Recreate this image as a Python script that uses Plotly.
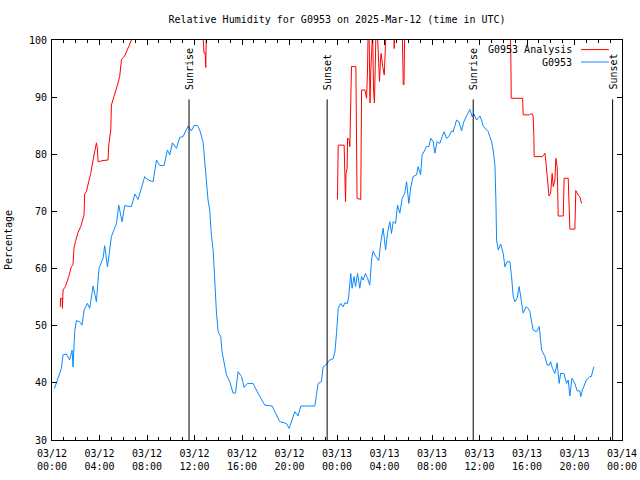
import pandas as pd
import plotly.graph_objects as go

BASE = pd.Timestamp("2025-03-12 00:00")

# Observed G0953 relative humidity (hours since 2025-03-12 00:00 UTC, %)
obs_hours = [0.2, 0.79, 0.93, 1.21, 1.49, 1.69, 1.77, 1.91, 2.05, 2.33, 2.53, 2.7, 2.98, 3.18, 3.46, 3.74, 3.96,
             4.3, 4.44, 4.67, 4.86, 5.0, 5.43, 5.62, 5.9, 6.12, 6.69, 6.97, 7.25, 7.81, 8.09, 8.51, 8.8, 9.07,
             9.44, 9.72, 9.92, 10.14, 10.48, 10.76, 11.04, 11.46, 11.74, 11.96, 12.25, 12.44, 12.72, 12.86, 13.0,
             13.14, 13.28, 13.42, 13.57, 13.65, 13.77, 13.85, 13.99, 14.21, 14.32, 14.49, 14.69, 14.97, 15.25,
             15.45, 15.67, 15.96, 16.18, 16.46, 16.93, 17.35, 17.92, 18.53, 19.18, 19.74, 19.97, 20.45, 20.72,
             20.95, 22.13, 22.27, 22.41, 22.69, 22.83, 22.97, 23.39, 23.67, 23.82, 23.96, 24.1, 24.32, 24.52,
             24.66, 24.88, 24.99, 25.16, 25.27, 25.44, 25.56, 25.73, 25.92, 26.07, 26.2, 26.4, 26.57, 26.76,
             26.91, 27.04, 27.24, 27.52, 27.69, 27.89, 28.09, 28.26, 28.45, 28.59, 28.73, 28.93, 29.1, 29.29,
             29.49, 29.71, 29.86, 30.05, 30.22, 30.41, 30.7, 30.84, 31.04, 31.17, 31.4, 31.54, 31.74, 31.9,
             32.1, 32.24, 32.43, 32.66, 32.86, 33.02, 33.22, 33.42, 33.65, 33.78, 34.07, 34.26, 34.49, 34.68,
             34.91, 35.19, 35.38, 35.53, 35.75, 36.03, 36.17, 36.31, 36.54, 36.73, 36.87, 37.02, 37.15, 37.3,
             37.38, 37.44, 37.58, 37.78, 38.0, 38.14, 38.33, 38.56, 38.7, 38.84, 38.98, 39.17, 39.34, 39.54,
             39.68, 39.91, 40.1, 40.24, 40.39, 40.52, 40.81, 41.03, 41.23, 41.51, 41.7, 41.87, 41.99, 42.15,
             42.35, 42.54, 42.71, 42.83, 43.11, 43.33, 43.47, 43.61, 43.78, 44.03, 44.22, 44.45, 44.53, 44.67,
             45.0, 45.28, 45.42, 45.62]
obs_values = [39.0, 42.5, 44.9, 45.05, 44.0, 45.75, 42.8, 48.95, 50.9, 50.7, 50.1, 52.75, 53.9, 53.05, 56.95, 54.2,
              60.05, 61.8, 64.0, 60.3, 63.25, 65.6, 67.9, 71.1, 68.2, 71.0, 70.85, 73.05, 72.1, 76.1, 75.5, 75.2,
              79.0, 78.05, 78.05, 80.75, 79.9, 82.0, 81.05, 82.95, 83.1, 84.95, 84.1, 85.05, 85.0, 84.25, 82.2,
              78.7, 75.2, 72.0, 70.25, 65.9, 63.25, 59.75, 56.25, 52.2, 48.95, 48.1, 45.45, 43.4, 41.4, 40.2,
              38.2, 38.2, 41.95, 41.1, 39.2, 39.9, 39.9, 38.2, 36.1, 35.95, 33.2, 32.9, 32.05, 34.95, 34.2,
              35.95, 35.95, 37.9, 39.9, 40.2, 42.8, 42.95, 44.0, 44.2, 45.4, 48.65, 53.05, 53.9, 53.3, 54.0,
              53.9, 55.2, 59.15, 56.55, 58.6, 56.85, 59.15, 56.55, 58.6, 58.0, 59.15, 58.3, 57.1, 61.5, 63.1,
              62.2, 61.4, 64.7, 67.05, 63.25, 66.3, 68.2, 66.15, 68.2, 67.9, 71.1, 69.7, 72.3, 73.2, 75.2, 71.4,
              74.3, 76.1, 76.4, 77.85, 76.4, 79.9, 80.75, 81.35, 81.35, 82.8, 82.2, 80.2, 82.2, 81.9, 83.1,
              83.95, 82.8, 83.1, 84.1, 83.95, 86.0, 85.7, 84.1, 85.7, 86.7, 87.85, 86.6, 87.05, 86.0, 86.7,
              86.0, 84.95, 84.4, 83.95, 83.1, 82.2, 80.75, 78.1, 72.0, 65.0, 63.25, 64.3, 62.65, 60.3, 61.2,
              61.2, 58.6, 55.1, 54.2, 54.8, 56.85, 53.9, 52.2, 53.3, 53.05, 52.45, 51.0, 49.25, 48.95, 49.85,
              45.75, 44.6, 43.1, 43.1, 43.7, 42.5, 41.65, 43.5, 39.9, 41.65, 41.65, 39.9, 40.5, 37.7, 40.8,
              39.9, 38.6, 38.6, 37.6, 38.75, 40.5, 41.1, 41.1, 42.8]

# G0953 Analysis (values above 100 run off the top of the chart; None = no data)
ana_hours = [0.7, 0.72, 0.86, 0.88, 0.93, 1.13, 1.41, 1.63, 1.77, 1.85, 1.97, 2.19, 2.42, 2.7, 2.75, 2.9, 3.09,
             3.26, 3.46, 3.66, 3.74, 3.82, 3.88, 4.3, 4.72, 4.78, 4.86, 4.95, 5.0, 5.14, 5.34, 5.51, 5.7, 5.85,
             6.12, 6.4, 6.74, 7.0, 12.7, 12.8, 12.9, 12.95, 13.0, 13.1,
             18.0,
             24.04, 24.05, 24.1, 24.6, 24.66, 24.72, 24.76, 24.85, 24.89, 25.02, 25.08, 25.14, 25.22, 25.59,
             25.64, 25.69, 26.0, 26.07, 26.35, 26.49, 26.57, 26.62, 26.7, 26.78, 26.85, 26.93, 27.0, 27.08,
             27.15, 27.22, 27.28, 27.4, 27.47, 27.58, 27.66, 27.72, 27.85, 27.98, 28.05, 28.12, 28.78, 28.82,
             28.86, 29.5, 29.58, 29.64, 29.7, 38.6, 38.65, 38.67, 39.63, 39.68, 40.19, 40.3, 40.45, 40.52,
             40.58, 40.6, 41.31, 41.45, 41.51, 41.6, 41.71, 41.77, 41.85, 41.99, 42.12, 42.21, 42.35, 42.43,
             42.54, 42.58, 42.63, 43.05, 43.13, 43.47, 43.55, 43.61, 44.03, 44.06, 44.11, 44.3, 44.45, 44.59]
ana_values = [53.3, 54.8, 54.8, 53.05, 56.25, 56.85, 58.6, 60.35, 60.65, 63.55, 64.7, 66.3, 67.35, 69.4, 73.05,
              73.5, 75.2, 76.65, 79.0, 81.45, 82.0, 81.05, 78.7, 78.9, 79.0, 81.6, 83.4, 84.25, 88.6, 89.5,
              90.95, 92.1, 93.6, 96.6, 97.2, 98.5, 100.0, 101.5, 101.5, 97.7, 97.7, 95.2, 101.5, 101.5,
              None,
              72.1, 77.0, 81.6, 81.6, 76.65, 71.7, 76.65, 77.5, 82.8, 82.6, 81.35, 88.35, 95.35, 95.35, 83.95,
              72.3, 72.1, 91.25, 91.25, 89.8, 94.75, 101.5, 101.5, 89.0, 94.75, 101.5, 101.5, 91.25, 89.0,
              95.35, 101.5, 101.5, 97.65, 92.75, 96.5, 97.65, 95.35, 93.9, 97.4, 101.5, 101.5, 98.5, 101.5,
              101.5, 92.2, 92.2, 101.5, 101.5, 95.0, 89.8, 89.8, 86.9, 86.9, 87.05, 87.05, 86.7, 83.1, 79.6,
              79.6, 80.2, 80.2, 78.45, 76.4, 74.35, 72.7, 73.2, 76.65, 74.35, 75.5, 79.3, 77.85, 74.35, 69.2,
              69.2, 75.8, 75.8, 69.7, 66.9, 66.9, 70.25, 73.65, 72.9, 72.6, 71.4]

# Sunrise / sunset (hours since 2025-03-12 00:00 UTC)
sun_hours = [11.54, 23.17, 35.47, 47.21]
sun_labels = ["Sunrise", "Sunset", "Sunrise", "Sunset"]

# X tick labels every 4 hours
tick_hours = [0, 4, 8, 12, 16, 20, 24, 28, 32, 36, 40, 44, 48]
tick_text = ["03/12<br>00:00", "03/12<br>04:00", "03/12<br>08:00", "03/12<br>12:00", "03/12<br>16:00",
             "03/12<br>20:00", "03/13<br>00:00", "03/13<br>04:00", "03/13<br>08:00", "03/13<br>12:00",
             "03/13<br>16:00", "03/13<br>20:00", "03/14<br>00:00"]


def to_time(hours):
    return [None if h is None else BASE + pd.Timedelta(hours=h) for h in hours]


FONT = "DejaVu Sans Mono"
RED = "#ff0000"
BLUE = "#0a88ff"

fig = go.Figure()
fig.add_trace(go.Scatter(x=to_time(ana_hours), y=ana_values, mode="lines", name="G0953 Analysis",
                         line=dict(color=RED, width=1), connectgaps=False))
fig.add_trace(go.Scatter(x=to_time(obs_hours), y=obs_values, mode="lines", name="G0953",
                         line=dict(color=BLUE, width=1)))

for t, lab in zip(to_time(sun_hours), sun_labels):
    fig.add_shape(type="line", xref="x", yref="y", x0=t, x1=t, y0=30, y1=89.6,
                  line=dict(color="black", width=1))
    fig.add_annotation(x=t, y=90.9, xref="x", yref="y", text=lab, textangle=-90, showarrow=False,
                       xanchor="center", yanchor="bottom", font=dict(family=FONT, size=10, color="black"))

# Legend drawn gnuplot-style (text on the left, sample on the right)
legend_rows = [("G0953 Analysis", RED, 0.976), ("G0953", BLUE, 0.945)]
for txt, col, yy in legend_rows:
    fig.add_annotation(x=0.9158, y=yy, xref="paper", yref="paper", text=txt, showarrow=False,
                       xanchor="right", yanchor="middle", font=dict(family=FONT, size=10, color="black"))
    fig.add_shape(type="line", xref="paper", yref="paper", x0=0.928, x1=0.977, y0=yy, y1=yy,
                  line=dict(color=col, width=1))

fig.update_layout(
    width=640, height=480,
    margin=dict(l=52, r=18, t=40, b=40, autoexpand=False),
    paper_bgcolor="white", plot_bgcolor="white",
    showlegend=False,
    font=dict(family=FONT, size=10, color="black"),
    title=dict(text="Relative Humidity for G0953 on 2025-Mar-12 (time in UTC)", x=0.5, xref="paper",
               xanchor="center", y=0.96, yref="container", yanchor="middle",
               font=dict(family=FONT, size=10, color="black"), automargin=False),
)
fig.update_xaxes(
    type="date", range=[BASE, BASE + pd.Timedelta(hours=48)], automargin=False,
    tickmode="array", tickvals=to_time(tick_hours), ticktext=tick_text,
    ticks="inside", ticklen=5, tickcolor="black", tickwidth=1, ticklabelstandoff=4,
    showline=True, linecolor="black", linewidth=1, mirror="allticks",
    showgrid=False, zeroline=False,
    minor=dict(dtick=3600000, tick0=BASE, ticks="inside", ticklen=3, tickcolor="black", showgrid=False),
    tickfont=dict(family=FONT, size=10, color="black"),
)
fig.update_yaxes(
    range=[30, 100], dtick=10, tick0=30, automargin=False,
    ticks="inside", ticklen=5, tickcolor="black", tickwidth=1, ticklabelstandoff=2,
    showline=True, linecolor="black", linewidth=1, mirror="allticks",
    showgrid=False, zeroline=False,
    title=dict(text="Percentage", font=dict(family=FONT, size=10, color="black"), standoff=14),
    tickfont=dict(family=FONT, size=10, color="black"),
)

fig.write_html("out.html", config={"displayModeBar": False},
               post_script="document.body.style.margin='0';")
